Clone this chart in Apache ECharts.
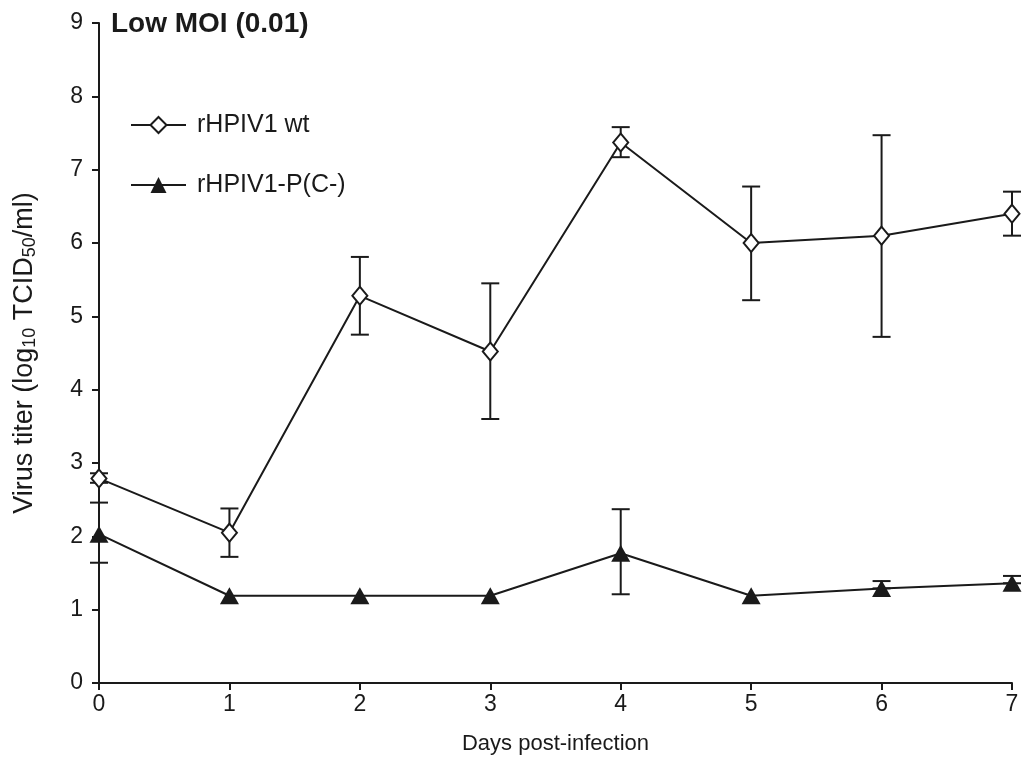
<!DOCTYPE html>
<html>
<head>
<meta charset="utf-8">
<script src="https://cdn.jsdelivr.net/npm/echarts@6/dist/echarts.min.js"></script>
<style>
html,body{margin:0;padding:0;background:#fff;}
#c{width:1023px;height:778px;}
</style>
</head>
<body>
<div id="c"></div>
<script>
const days = [0, 1, 2, 3, 4, 5, 6, 7];
const wtMean = [2.79, 2.05, 5.28, 4.52, 7.37, 6.00, 6.10, 6.40];
const wtLow  = [2.73, 1.72, 4.75, 3.60, 7.17, 5.22, 4.72, 6.10];
const wtHigh = [2.86, 2.38, 5.81, 5.45, 7.58, 6.77, 7.47, 6.70];
const pcMean = [2.03, 1.19, 1.19, 1.19, 1.77, 1.19, 1.29, 1.36];
const pcLow  = [1.64, 1.19, 1.19, 1.19, 1.21, 1.19, 1.29, 1.36];
const pcHigh = [2.46, 1.19, 1.19, 1.19, 2.37, 1.19, 1.39, 1.46];
const yTicks = [0, 1, 2, 3, 4, 5, 6, 7, 8, 9];

const font = 'Liberation Sans, Arial, sans-serif';
const ink = '#1a1a1a';

function errData(lo, hi) {
  return days.map((d, i) => [d, lo[i], hi[i]]);
}
function errRender(params, api) {
  const x = api.value(0);
  const lo = api.coord([x, api.value(1)]);
  const hi = api.coord([x, api.value(2)]);
  if (Math.abs(lo[1] - hi[1]) < 1) return null;
  const w = 9;
  const st = {stroke: ink, lineWidth: 2};
  return {
    type: 'group',
    children: [
      {type: 'line', shape: {x1: lo[0], y1: lo[1], x2: hi[0], y2: hi[1]}, style: st},
      {type: 'line', shape: {x1: lo[0] - w, y1: lo[1], x2: lo[0] + w, y2: lo[1]}, style: st},
      {type: 'line', shape: {x1: hi[0] - w, y1: hi[1], x2: hi[0] + w, y2: hi[1]}, style: st}
    ]
  };
}

const chart = echarts.init(document.getElementById('c'), null, {renderer: 'canvas'});
chart.setOption({
  animation: false,
  backgroundColor: '#fff',
  title: {
    text: 'Low MOI (0.01)',
    left: 106, top: 5,
    textStyle: {fontFamily: font, fontSize: 28, fontWeight: 'bold', color: ink}
  },
  legend: {
    orient: 'vertical',
    left: 130, top: 112, padding: 0,
    itemWidth: 55, itemHeight: 20,
    itemGap: 34,
    textStyle: {fontFamily: font, fontSize: 25, lineHeight: 26, color: ink, padding: [0, 0, 0, 6]},
    data: ['rHPIV1 wt', 'rHPIV1-P(C-)']
  },
  grid: {left: 99, right: 11, top: 23, bottom: 95, containLabel: false},
  xAxis: {
    type: 'value', min: 0, max: 7, interval: 1,
    name: 'Days post-infection', nameLocation: 'middle', nameGap: 50,
    nameTextStyle: {fontFamily: font, fontSize: 22, color: ink},
    axisLine: {lineStyle: {color: ink, width: 2}},
    axisTick: {show: true, inside: false, length: 7, lineStyle: {color: ink, width: 2}},
    axisLabel: {fontFamily: font, fontSize: 23, color: ink, margin: 10},
    splitLine: {show: false}
  },
  yAxis: {
    type: 'value', min: 0, max: 9, interval: 1,
    name: 'Virus titer (log{sub|10} TCID{sub|50}/ml)',
    nameLocation: 'middle', nameGap: 60, nameRotate: 90,
    nameTextStyle: {
      fontFamily: font, fontSize: 27, color: ink,
      rich: {sub: {fontFamily: font, fontSize: 18, color: ink, verticalAlign: 'bottom', padding: [10, 0, 0, 0]}}
    },
    axisLine: {show: true, lineStyle: {color: ink, width: 2}},
    axisTick: {show: true, inside: false, length: 7, lineStyle: {color: ink, width: 2}},
    axisLabel: {fontFamily: font, fontSize: 23, color: ink, margin: 16,
      formatter: v => yTicks.includes(v) ? String(v) : ''},
    splitLine: {show: false}
  },
  series: [
    {
      name: 'rHPIV1 wt-err', type: 'custom', renderItem: errRender,
      data: errData(wtLow, wtHigh), z: 1, silent: true
    },
    {
      name: 'rHPIV1-P(C-)-err', type: 'custom', renderItem: errRender,
      data: errData(pcLow, pcHigh), z: 1, silent: true
    },
    {
      name: 'rHPIV1 wt', type: 'line',
      data: days.map((d, i) => [d, wtMean[i]]),
      symbol: 'emptyDiamond', symbolSize: [15, 18],
      lineStyle: {color: ink, width: 2},
      itemStyle: {color: ink, borderColor: ink, borderWidth: 2},
      z: 3
    },
    {
      name: 'rHPIV1-P(C-)', type: 'line',
      data: days.map((d, i) => [d, pcMean[i]]),
      symbol: 'triangle', symbolSize: [19, 17],
      lineStyle: {color: ink, width: 2},
      itemStyle: {color: ink},
      z: 3
    }
  ]
});
</script>
</body>
</html>
